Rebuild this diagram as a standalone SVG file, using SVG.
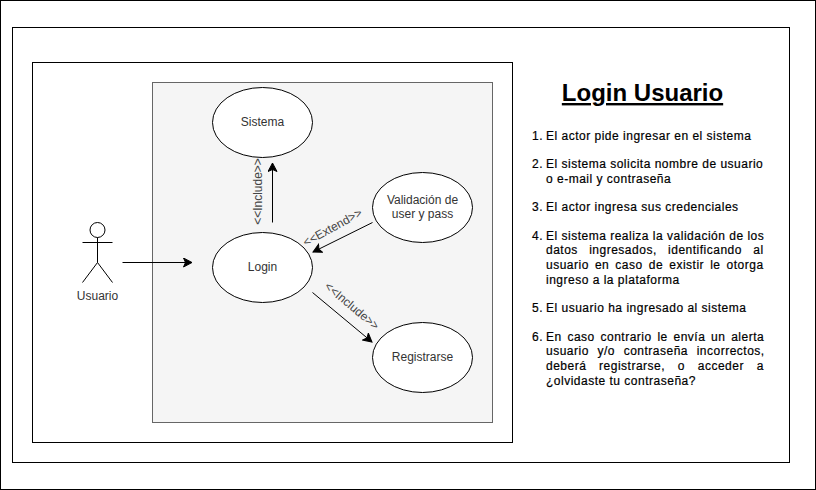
<svg xmlns="http://www.w3.org/2000/svg" width="816" height="490" viewBox="0 0 816 490">
<style>
text{font-family:"Liberation Sans",Arial,sans-serif}
.f{fill:none;stroke:#000}
.n{fill:#fff;stroke:#000}
.c{font-size:12px;text-anchor:middle;fill:#333}
.l{font-size:12px;text-anchor:middle;fill:#444}
.s{font-size:12px;letter-spacing:.5px;fill:#000;stroke:#000;stroke-width:.2}
.t{font-size:24px;font-weight:bold;fill:#000;text-anchor:middle;text-decoration:underline}
.e{fill:none;stroke:#000;stroke-width:1}
</style>
<defs><marker id="a" markerUnits="userSpaceOnUse" markerWidth="11" markerHeight="11" refX="9" refY="5" orient="auto"><path d="M0.5 0.5L9 5L0.5 9.5L2.5 5Z" fill="#000" stroke="#000"/></marker></defs>
<rect width="816" height="490" fill="#fff"/>
<g id="frames">
<rect class="f" x="0.5" y="0.5" width="815" height="489"/>
<rect class="f" x="12.5" y="27.5" width="777" height="435"/>
<rect class="f" x="32.5" y="62.5" width="480" height="380"/>
<rect x="152.5" y="82.5" width="340" height="340" fill="#f5f5f5" stroke="#666"/>
</g>
<g id="connectors">
<path class="e" d="M122.5 262.5H192" marker-end="url(#a)"/>
<path class="e" d="M272.5 222.5V163" marker-end="url(#a)"/>
<path class="e" d="M372.5 222.5L313 252" marker-end="url(#a)"/>
<path class="e" d="M312.5 292.5L372 342" marker-end="url(#a)"/>
<text class="l" transform="translate(258 191.5) rotate(-90)" y="4">&lt;&lt;Include&gt;&gt;</text>
<text class="l" transform="translate(332.5 227.5) rotate(-29)" y="4">&lt;&lt;Extend&gt;&gt;</text>
<text class="l" transform="translate(352 306) rotate(40)" y="4">&lt;&lt;Include&gt;&gt;</text>
</g>
<g id="actor"><circle class="n" cx="97.5" cy="230" r="7.5"/><path class="e" d="M97.5 237.5V262.5M82.5 242.5H112.5M97.5 262.5L82.5 282.5M97.5 262.5L112.5 282.5"/><text class="c" x="97.5" y="300">Usuario</text></g>
<g id="sistema"><ellipse class="n" cx="262.5" cy="122.5" rx="50" ry="35"/><text class="c" x="262.5" y="126">Sistema</text></g>
<g id="login"><ellipse class="n" cx="262.5" cy="267.5" rx="50" ry="35"/><text class="c" x="262.5" y="271">Login</text></g>
<g id="validacion"><ellipse class="n" cx="422.5" cy="207.5" rx="50" ry="35"/><text class="c" x="422.5" y="204">Validación de</text><text class="c" x="422.5" y="218">user y pass</text></g>
<g id="registrarse"><ellipse class="n" cx="422.5" cy="357.5" rx="50" ry="35"/><text class="c" x="422.5" y="361">Registrarse</text></g>
<g id="texto">
<text class="t" x="642.5" y="101">Login Usuario</text>
<text class="s" x="532" y="140">1.</text><text class="s" x="546" y="140">El actor pide ingresar en el sistema</text>
<text class="s" x="532" y="168">2.</text><text class="s" x="546" y="168">El sistema solicita nombre de usuario</text><text class="s" x="546" y="183">o e-mail y contraseña</text>
<text class="s" x="532" y="211">3.</text><text class="s" x="546" y="211">El actor ingresa sus credenciales</text>
<text class="s" x="532" y="240">4.</text><text class="s" x="546" y="240">El sistema realiza la validación de los</text><text class="s" x="546" y="254" word-spacing="7.5">datos ingresados, identificando al</text><text class="s" x="546" y="269" word-spacing="2.25">usuario en caso de existir le otorga</text><text class="s" x="546" y="284">ingreso a la plataforma</text>
<text class="s" x="532" y="312">5.</text><text class="s" x="546" y="312">El usuario ha ingresado al sistema</text>
<text class="s" x="532" y="341">6.</text><text class="s" x="546" y="341" word-spacing="1.9">En caso contrario le envía un alerta</text><text class="s" x="546" y="355" word-spacing="4.8">usuario y/o contraseña incorrectos,</text><text class="s" x="546" y="370" word-spacing="8.9">deberá registrarse, o acceder a</text><text class="s" x="546" y="385">¿olvidaste tu contraseña?</text>
</g>
</svg>
